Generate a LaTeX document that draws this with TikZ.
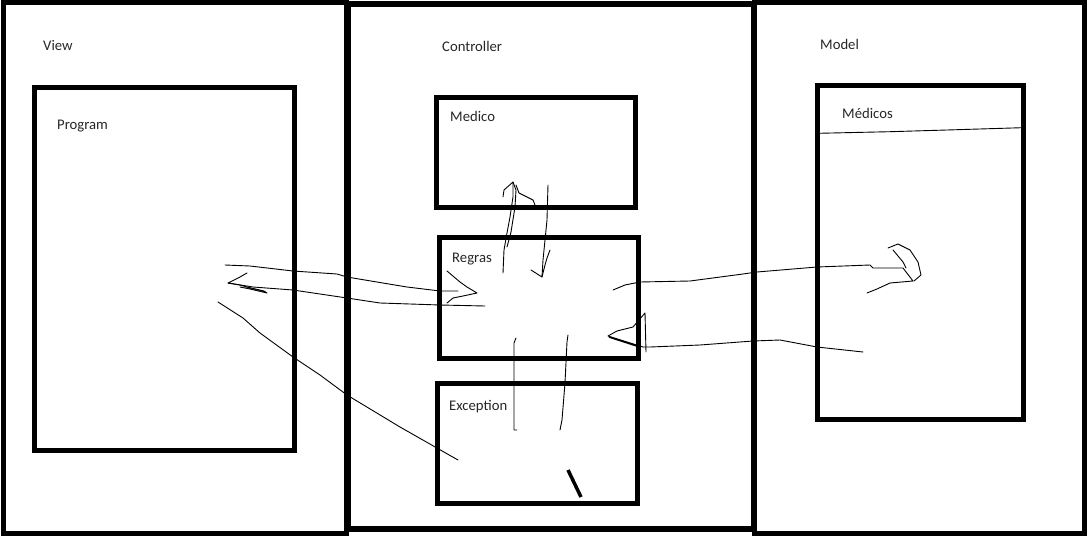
\documentclass[tikz,border=0pt]{standalone}
\usepackage{fontspec}
\setmainfont{Carlito}
\usetikzlibrary{positioning}

\begin{document}
\begin{tikzpicture}[x=1pt, y=-1pt,
        panel/.style={rectangle, draw, line width=5pt, inner sep=0pt, outer sep=0pt},
        box/.style={rectangle, draw, line width=5pt, inner sep=0pt, outer sep=0pt, minimum width=199pt, minimum height=120pt},
        tag/.style={anchor=base west, inner sep=0pt, text=black!85, font=\fontsize{14.7}{17}\selectfont},
        hand/.style={line width=0.9pt, line join=round, line cap=round},
        ]
        \useasboundingbox (0,0) rectangle (1088,536);
        %Panels
        \node[panel, minimum width=343pt, minimum height=530.5pt]   (view)       at (174.5,267.75) {};
        \node[panel, minimum width=330pt, minimum height=530.8pt]   (model)      at (919,267.9)    {};
        \node[panel, line width=6pt, minimum width=406.5pt, minimum height=525pt] (controller) at (551,266) {};

        %Boxes
        \node[box, minimum width=260pt, minimum height=363pt]       (program)    at (164.2,269.4)  {};
        \node[box, minimum height=110pt]                            (medico)     at (536,152.5)    {};
        \node[box, minimum height=120.5pt] (regras)    [below=30pt of medico, xshift=3pt]   {};
        \node[box, minimum width=200pt]    (exception) [below=25pt of regras, xshift=-2pt] {};
        \node[box, minimum width=206.3pt, minimum height=333.5pt]   (medicos)    at (920.15,252.25) {};

        %Texts
        \node[tag] (viewtext)       at (43,50)    {View};
        \node[tag] (controllertext) at (442,51.5) {Controller};
        \node[tag] (modeltext)      at (820,49.5) {Model};
        \node[tag] (programtext)    at (57,129.5) {Program};
        \node[tag] (medicotext)     at (450,121.5) {Medico};
        \node[tag] (regrastext)     at (452,262)  {Regras};
        \node[tag] (exceptiontext)  at (449,410.5) {Exception};
        \node[tag] (medicostext)    at (842,118)  {Médicos};

        %Lines
        \coordinate (progtail) at (228,283);
        \coordinate (regrastip) at (477,293);
        \draw[hand] (225,265) -- (250,266) -- (293,271) -- (337,274) -- (347,277) -- (377,282)
            -- (407,287) -- (440,291) -- (458,291);
        \draw[hand] (247,273) -- (240,277) -- (progtail) -- (240,285) -- (247,287) -- (264,291)
            -- (267,293) -- (250,289) -- (240,287);
        \draw[hand] (progtail) -- (253,287) -- (293,290) -- (347,298) -- (380,303) -- (440,305) -- (485,306);
        \draw[hand] (447,271) -- (460,282) -- (467,287) -- (regrastip) -- (463,296) -- (453,298) -- (447,303);
        \draw[hand] (218,302) -- (243,318) -- (260,333) -- (293,357) -- (320,375) -- (347,395)
            -- (400,427) -- (458,460);

        \draw[hand] (503,273) -- (504,250) -- (507,233) -- (510,217) -- (513,197) -- (513,182)
            -- (504,190) -- (503,197);
        \draw[hand] (513,182) -- (516,190) -- (515,207) -- (511,232) -- (507,247);
        \draw[hand] (516,185) -- (519,193) -- (533,200) -- (535,205);
        \draw[hand] (548,185) -- (547,220) -- (545,240) -- (543,260) -- (542,277) -- (531,270);
        \draw[hand] (542,277) -- (545,265) -- (547,258) -- (550,250);

        \draw[hand] (516,338) -- (514,343) -- (514,430) -- (517,430);
        \draw[hand] (568,335) -- (567,342) -- (565,383) -- (562,420) -- (560,430);

        \draw[hand] (613,290) -- (625,285) -- (640,282) -- (690,281) -- (743,274) -- (757,272)
            -- (817,267) -- (870,265) -- (873,268) -- (903,268) -- (913,281) -- (890,283)
            -- (877,289) -- (867,293);
        \draw[hand] (888,248) -- (898,244) -- (910,250) -- (918,262) -- (921,275) -- (914,281);
        \draw[hand] (893,250) -- (903,262) -- (906,268);

        \draw[hand] (863,352) -- (817,347) -- (780,340) -- (753,341) -- (700,345) -- (650,347) -- (643,347);
        \draw[hand] (643,347) -- (608,336) -- (617,331) -- (633,327) -- (645,313) -- (646,352);
        \draw[line width=1.6pt] (609,337) -- (640,347);

        \draw[hand] (818,133.3) -- (890,131.7) -- (947,130) -- (1022,127.7);
        \draw[line width=3.5pt] (568,470) -- (581,497);
\end{tikzpicture}
\end{document}
